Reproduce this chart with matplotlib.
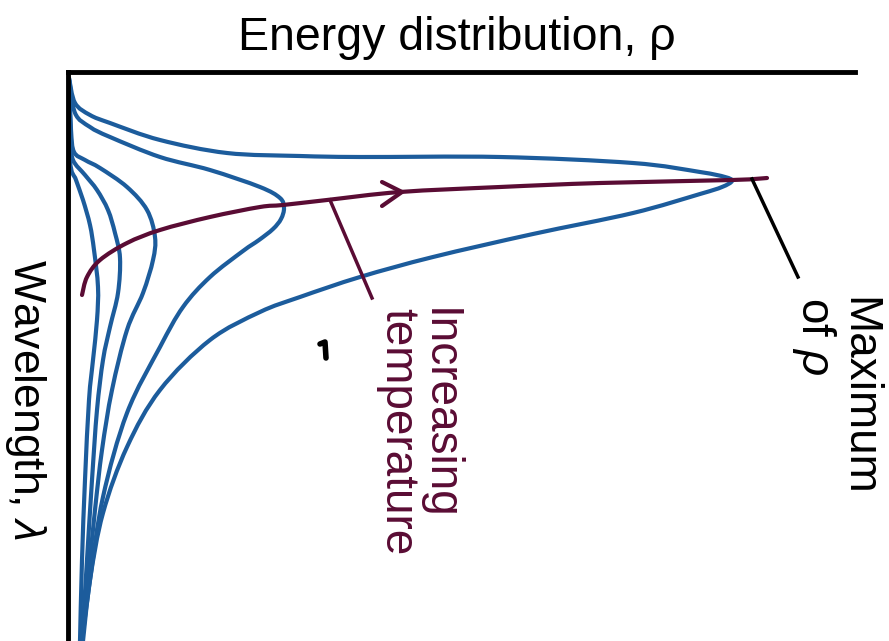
import matplotlib
matplotlib.use("Agg")
import matplotlib.pyplot as plt
from matplotlib.path import Path
from matplotlib.patches import PathPatch
import numpy as np

plt.rcParams['font.family'] = ['Liberation Sans', 'DejaVu Sans']
plt.rcParams['mathtext.fontset'] = 'custom'
plt.rcParams['mathtext.it'] = 'Liberation Sans:italic'
plt.rcParams['mathtext.rm'] = 'Liberation Sans'

BLUE = '#1c5c9c'
PURPLE = '#5a0c34'

# curves: energy (rho) vs wavelength (lambda), arbitrary units
rho_1 = [1, 2, 8, 15, 22, 26, 30, 29, 25, 21, 17, 14, 12]
lam_1 = [8, 88, 108, 128, 153, 178, 215, 248, 288, 328, 408, 488, 569]

rho_2 = [1, 3, 5, 17, 29, 40, 47, 52, 50, 42, 35, 29, 24, 19, 14]
lam_2 = [8, 68, 88, 103, 118, 138, 161, 186, 221, 255, 288, 338, 408, 488, 569]

rho_3 = [1, 3, 6, 17, 32, 59, 79, 87, 85, 75, 59, 44, 34, 27, 20, 14]
lam_3 = [8, 58, 80, 88, 96, 115, 138, 165, 188, 221, 258, 318, 378, 438, 508, 569]

rho_4 = [1, 7, 22, 42, 92, 142, 192, 212, 216, 213, 205, 191, 175, 142, 115, 92, 59, 35, 22, 14]
lam_4 = [6, 41, 55, 65, 85, 98, 115, 126, 136, 147, 157, 168, 179, 205, 235, 275, 341, 425, 508, 569]

rho_5 = [1, 7, 22, 42, 92, 159, 232, 292, 432, 565, 632, 657, 664, 654, 632, 565, 465,
         365, 292, 232, 192, 142, 92, 59, 35, 22, 15]
lam_5 = [6, 31, 43, 51, 68, 81, 84, 85, 85, 91, 100, 105, 109, 115, 122, 141, 162,
         185, 205, 225, 240, 268, 318, 375, 441, 508, 569]

# locus of the maxima
rho_max = [14, 19, 32, 59, 92, 142, 192, 215, 259, 332, 432, 532, 664, 699]
lam_max = [223, 205, 188, 171, 158, 145, 135, 133, 128, 120, 115, 111, 108, 106]

arrow_rho = [314, 334, 314]
arrow_lam = [110, 120, 134]

temp_ptr_rho = [262, 304]
temp_ptr_lam = [128, 226]
max_ptr_rho = [684, 730]
max_ptr_lam = [107, 205]

mark_rho = [252, 257, 258]
mark_lam = [272, 270, 286]


def smooth_path(xs, ys):
    # catmull-rom through the read points, drawn as cubic bezier segments
    p = np.column_stack([xs, ys]).astype(float)
    p = np.vstack([p[0], p, p[-1]])
    verts = [p[1]]
    codes = [Path.MOVETO]
    for i in range(1, len(p) - 2):
        c1 = p[i] + (p[i + 1] - p[i - 1]) / 6
        c2 = p[i + 1] - (p[i + 2] - p[i]) / 6
        verts += [c1, c2, p[i + 1]]
        codes += [Path.CURVE4] * 3
    return Path(verts, codes)


def draw_curve(ax, xs, ys, color, lw):
    patch = PathPatch(smooth_path(xs, ys), facecolor='none', edgecolor=color, lw=lw,
                      capstyle='round', joinstyle='round', clip_on=False)
    ax.add_patch(patch)


fig = plt.figure(figsize=(8.89, 6.41), dpi=100)
ax = fig.add_axes([68 / 889, 0, 787 / 889, 569 / 641])
ax.set_xlim(0, 787)
ax.set_ylim(569, 0)

for r, l in [(rho_1, lam_1), (rho_2, lam_2), (rho_3, lam_3), (rho_4, lam_4), (rho_5, lam_5)]:
    draw_curve(ax, r, l, BLUE, 3)

draw_curve(ax, rho_max, lam_max, PURPLE, 3)
ax.plot(arrow_rho, arrow_lam, color=PURPLE, lw=3, solid_capstyle='round', clip_on=False)
ax.plot(temp_ptr_rho, temp_ptr_lam, color=PURPLE, lw=2.5, clip_on=False)
ax.plot(max_ptr_rho, max_ptr_lam, color='black', lw=2.5, clip_on=False)
ax.plot(mark_rho, mark_lam, color='black', lw=4, solid_capstyle='round', clip_on=False)

for s in ['right', 'bottom']:
    ax.spines[s].set_visible(False)
for s in ['left', 'top']:
    ax.spines[s].set_linewidth(3.5)
ax.set_xticks([])
ax.set_yticks([])

ax.text(389, -22, 'Energy distribution, ρ', fontsize=33.5, ha='center', va='baseline', clip_on=False)
ax.text(-43, 328, r'Wavelength, $\lambda$', fontsize=32, rotation=-90, ha='center', va='center',
        clip_on=False)
ax.text(350, 236, 'Increasing\ntemperature', fontsize=33, rotation=-90, ha='center', va='top',
        color=PURPLE, linespacing=0.95, multialignment='left', clip_on=False)
ax.text(767, 225, 'Maximum\n' + r'of $\rho$', fontsize=33, rotation=-90, ha='center', va='top',
        linespacing=0.95, multialignment='left', clip_on=False)

fig.savefig('out.png', dpi=100)
